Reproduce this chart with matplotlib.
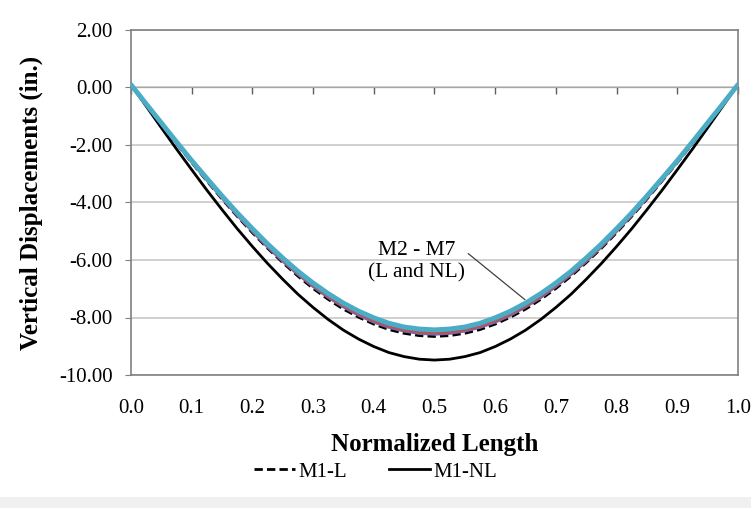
import matplotlib
matplotlib.use("Agg")
import matplotlib.pyplot as plt
from matplotlib.patches import Rectangle

plt.rcParams['font.family'] = ['Liberation Serif', 'DejaVu Serif']

# Normalized length positions
x = [0.000, 0.025, 0.050, 0.075, 0.100, 0.125, 0.150, 0.175, 0.200, 0.225,
     0.250, 0.275, 0.300, 0.325, 0.350, 0.375, 0.400, 0.425, 0.450, 0.475,
     0.500, 0.525, 0.550, 0.575, 0.600, 0.625, 0.650, 0.675, 0.700, 0.725,
     0.750, 0.775, 0.800, 0.825, 0.850, 0.875, 0.900, 0.925, 0.950, 0.975, 1.000]

# Vertical displacements (in.)
m1_nl = [0.10, -0.65, -1.40, -2.14, -2.86, -3.57, -4.25, -4.91, -5.53, -6.12,
         -6.67, -7.19, -7.65, -8.07, -8.44, -8.75, -9.01, -9.22, -9.36, -9.45,
         -9.48, -9.45, -9.36, -9.22, -9.01, -8.75, -8.44, -8.07, -7.65, -7.19,
         -6.67, -6.12, -5.53, -4.91, -4.25, -3.57, -2.86, -2.14, -1.40, -0.65, 0.10]
m1_l = [0.10, -0.59, -1.27, -1.95, -2.61, -3.25, -3.88, -4.48, -5.05, -5.59,
        -6.09, -6.56, -6.99, -7.37, -7.71, -7.99, -8.23, -8.42, -8.55, -8.63,
        -8.66, -8.63, -8.55, -8.42, -8.23, -7.99, -7.71, -7.37, -6.99, -6.56,
        -6.09, -5.59, -5.05, -4.48, -3.88, -3.25, -2.61, -1.95, -1.27, -0.59, 0.10]
m2 = [0.10, -0.58, -1.26, -1.93, -2.58, -3.22, -3.84, -4.44, -5.00, -5.54,
      -6.04, -6.50, -6.92, -7.30, -7.63, -7.92, -8.16, -8.34, -8.47, -8.55,
      -8.58, -8.55, -8.47, -8.34, -8.16, -7.92, -7.63, -7.30, -6.92, -6.50,
      -6.04, -5.54, -5.00, -4.44, -3.84, -3.22, -2.58, -1.93, -1.26, -0.58, 0.10]
m3 = [0.10, -0.58, -1.25, -1.91, -2.57, -3.20, -3.82, -4.41, -4.97, -5.50,
      -6.00, -6.46, -6.88, -7.26, -7.59, -7.87, -8.11, -8.29, -8.42, -8.50,
      -8.53, -8.50, -8.42, -8.29, -8.11, -7.87, -7.59, -7.26, -6.88, -6.46,
      -6.00, -5.50, -4.97, -4.41, -3.82, -3.20, -2.57, -1.91, -1.25, -0.58, 0.10]
m5 = [0.10, -0.57, -1.24, -1.90, -2.55, -3.18, -3.79, -4.38, -4.94, -5.47,
      -5.96, -6.42, -6.83, -7.21, -7.54, -7.82, -8.05, -8.23, -8.37, -8.44,
      -8.47, -8.44, -8.37, -8.23, -8.05, -7.82, -7.54, -7.21, -6.83, -6.42,
      -5.96, -5.47, -4.94, -4.38, -3.79, -3.18, -2.55, -1.90, -1.24, -0.57, 0.10]
m7 = [0.10, -0.57, -1.23, -1.89, -2.54, -3.16, -3.77, -4.36, -4.91, -5.44,
      -5.93, -6.39, -6.80, -7.17, -7.50, -7.78, -8.01, -8.20, -8.33, -8.40,
      -8.43, -8.40, -8.33, -8.20, -8.01, -7.78, -7.50, -7.17, -6.80, -6.39,
      -5.93, -5.44, -4.91, -4.36, -3.77, -3.16, -2.54, -1.89, -1.23, -0.57, 0.10]

y_ticks = [2, 0, -2, -4, -6, -8, -10]
x_ticks = [0.0, 0.1, 0.2, 0.3, 0.4, 0.5, 0.6, 0.7, 0.8, 0.9, 1.0]

fig = plt.figure(figsize=(7.51, 5.08), dpi=100)
fig.patches.append(Rectangle((0, 0), 1, 0.022, transform=fig.transFigure,
                             facecolor='#f0f0f0', edgecolor='none', zorder=0))
ax = fig.add_axes([0.1744, 0.2618, 0.8083, 0.6792])

ax.set_xlim(0, 1)
ax.set_ylim(-10, 2)
ax.set_yticks(y_ticks)
ax.set_yticklabels([f"{v:.2f}" for v in y_ticks], fontsize=15)
ax.set_xticks(x_ticks)
ax.set_xticklabels([f"{v:.1f}" for v in x_ticks], fontsize=15)
ax.tick_params(axis='x', length=0, pad=17)
ax.tick_params(axis='y', length=4, direction='out', color='#808080', pad=9)
ax.yaxis.grid(True, color='#c8c8c8', linewidth=1.2)
ax.set_axisbelow(True)
for s in ax.spines.values():
    s.set_color('#808080')
    s.set_linewidth(1.2)

# x-axis crossing at zero with tick marks
sec = ax.secondary_xaxis(10.0 / 12.0)
sec.set_xticks(x_ticks)
sec.set_xticklabels([])
sec.tick_params(axis='x', direction='in', length=5, color='#606060', width=1)
sec.spines['bottom'].set_color('#707070')
sec.spines['bottom'].set_linewidth(1.2)

ax.plot(x, m1_l, color='black', linestyle=(0, (3, 1.5)), linewidth=2.0, label='M1-L', zorder=3)
ax.plot(x, m1_nl, color='black', linewidth=2.0, label='M1-NL', zorder=3)
ax.plot(x, m2, color='#8064A2', linewidth=2.2, zorder=4)
ax.plot(x, m3, color='#C0504D', linewidth=2.0, zorder=4)
ax.plot(x, m5, color='#4F81BD', linewidth=2.0, zorder=4)
ax.plot(x, m7, color='#4BACC6', linewidth=3.5, zorder=5, solid_capstyle='round')

ax.annotate("M2 - M7\n(L and NL)", xy=(0.649, -7.38), xytext=(0.471, -6.06),
            ha='center', va='center', fontsize=15.5, linespacing=1.25,
            arrowprops=dict(arrowstyle='-', color='#404040', lw=0.9,
                            shrinkA=0, shrinkB=0, relpos=(1.0, 0.75)))

ax.set_ylabel("Vertical Displacements (in.)", fontsize=18, fontweight='bold', labelpad=12)
ax.set_xlabel("Normalized Length", fontsize=18, fontweight='bold', labelpad=11)

handles, labels = ax.get_legend_handles_labels()
fig.legend(handles, labels, loc='center', bbox_to_anchor=(0.5, 0.071), ncol=2,
           frameon=False, fontsize=15, handlelength=2.0, columnspacing=2.0,
           handletextpad=0.15)

fig.savefig("out.png", dpi=100)
